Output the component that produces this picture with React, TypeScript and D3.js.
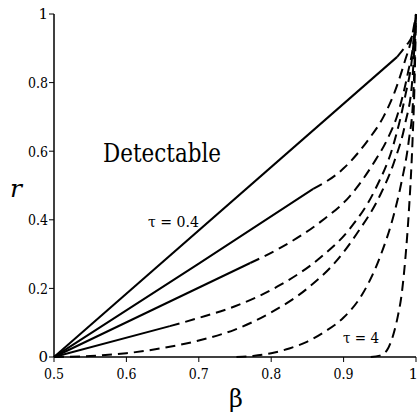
import React from "react";
import * as d3 from "d3";

const xTicks = [0.5, 0.6, 0.7, 0.8, 0.9, 1];
const yTicks = [0, 0.2, 0.4, 0.6, 0.8, 1];

// tau = 0.4
const aSolid: [number, number][] = [[0.5, 0], [0.974, 0.875]];
const aDashed: [number, number][] = [[0.974, 0.875], [0.981, 0.893], [0.988, 0.912], [0.9945, 0.935], [0.998, 0.96], [1, 1]];
// second curve
const bSolid: [number, number][] = [[0.5, 0], [0.7, 0.272], [0.858, 0.49]];
const bDashed: [number, number][] = [[0.858, 0.49], [0.9, 0.55], [0.934, 0.633], [0.955, 0.7], [0.971, 0.775], [0.985, 0.865], [0.994, 0.93], [1, 1]];
// third curve
const cSolid: [number, number][] = [[0.5, 0], [0.771, 0.274]];
const cDashed: [number, number][] = [[0.771, 0.274], [0.8125, 0.318], [0.868, 0.394], [0.909, 0.47], [0.944, 0.574], [0.96, 0.633], [0.975, 0.71], [0.989, 0.83], [0.996, 0.91], [1, 1]];
// fourth curve
const dSolid: [number, number][] = [[0.5, 0], [0.66, 0.09]];
const dDashed: [number, number][] = [[0.66, 0.09], [0.7, 0.114], [0.75, 0.148], [0.8125, 0.21], [0.868, 0.29], [0.909, 0.375], [0.944, 0.49], [0.969, 0.62], [0.985, 0.76], [0.995, 0.88], [1, 1]];
// fifth curve (all dashed)
const eDashed: [number, number][] = [[0.5, 0], [0.55, 0.003], [0.6, 0.011], [0.65, 0.026], [0.7, 0.048], [0.75, 0.08], [0.8, 0.13], [0.85, 0.2], [0.888, 0.275], [0.92, 0.365], [0.95, 0.47], [0.97, 0.57], [0.985, 0.68], [0.995, 0.81], [1, 1]];
// sixth curve
const fDashed: [number, number][] = [[0.752, 0], [0.775, 0.003], [0.8, 0.011], [0.825, 0.025], [0.85, 0.045], [0.875, 0.075], [0.9, 0.115], [0.925, 0.18], [0.95, 0.29], [0.97, 0.42], [0.98, 0.51], [0.99, 0.63], [0.996, 0.75], [1, 1]];
// tau = 4
const gDashed: [number, number][] = [[0.9375, 0], [0.95, 0.004], [0.96, 0.02], [0.97, 0.075], [0.975, 0.12], [0.98, 0.18], [0.985, 0.28], [0.99, 0.42], [0.995, 0.62], [0.998, 0.8], [1, 1]];

const solidSeries = [aSolid, bSolid, cSolid, dSolid];
const dashedSeries = [aDashed, bDashed, cDashed, dDashed, eDashed, fDashed, gDashed];

const W = 418;
const H = 414;
const FONT = "DejaVu Serif";

export default function App() {
  const x = d3.scaleLinear().domain([0.5, 1]).range([54, 416]);
  const y = d3.scaleLinear().domain([0, 1]).range([357, 14]);
  const line = d3
    .line<[number, number]>()
    .x((d) => x(d[0]))
    .y((d) => y(d[1]))
    .curve(d3.curveMonotoneX);

  return (
    <svg
      width={W}
      height={H}
      style={{ position: "absolute", left: 0, top: 0, background: "#fff" }}
      fontFamily={FONT}
    >
      <rect width={W} height={H} fill="#fff" />
      {solidSeries.map((s, i) => (
        <path key={"s" + i} d={line(s) || ""} fill="none" stroke="#000" strokeWidth={2} />
      ))}
      {dashedSeries.map((s, i) => (
        <path
          key={"d" + i}
          d={line(s) || ""}
          fill="none"
          stroke="#000"
          strokeWidth={2}
          strokeDasharray="10,6"
        />
      ))}
      <line x1={x(0.5)} x2={x(1)} y1={y(0)} y2={y(0)} stroke="#000" strokeWidth={1.5} />
      <line x1={x(0.5)} x2={x(0.5)} y1={y(0)} y2={y(1)} stroke="#000" strokeWidth={1.5} />
      {xTicks.map((t) => {
        const s = String(t);
        return (
          <g key={"xt" + t}>
            <line x1={x(t)} x2={x(t)} y1={y(0)} y2={y(0) + 5} stroke="#000" strokeWidth={1} />
            <text
              x={t === 1 ? 418 : x(t)}
              y={379}
              textAnchor={t === 1 ? "end" : "middle"}
              fontSize={15}
              textLength={s.length > 1 ? 20 : undefined}
              lengthAdjust="spacingAndGlyphs"
            >
              {s}
            </text>
          </g>
        );
      })}
      {yTicks.map((t) => {
        const s = String(t);
        return (
          <g key={"yt" + t}>
            <line x1={x(0.5) - 5} x2={x(0.5)} y1={y(t)} y2={y(t)} stroke="#000" strokeWidth={1} />
            <text
              x={48}
              y={y(t)}
              dy="0.36em"
              textAnchor="end"
              fontSize={15}
              textLength={s.length > 1 ? 20 : undefined}
              lengthAdjust="spacingAndGlyphs"
            >
              {s}
            </text>
          </g>
        );
      })}
      <text x={236} y={407} textAnchor="middle" fontSize={24}>
        β
      </text>
      <text x={10} y={197} fontSize={25} fontStyle="italic">
        r
      </text>
      <text x={103} y={162} fontSize={26} textLength={118} lengthAdjust="spacingAndGlyphs">
        Detectable
      </text>
      <text x={148} y={227} fontSize={15} textLength={51} lengthAdjust="spacingAndGlyphs">
        τ = 0.4
      </text>
      <text x={343} y={343} fontSize={15} textLength={36} lengthAdjust="spacingAndGlyphs">
        τ = 4
      </text>
    </svg>
  );
}
